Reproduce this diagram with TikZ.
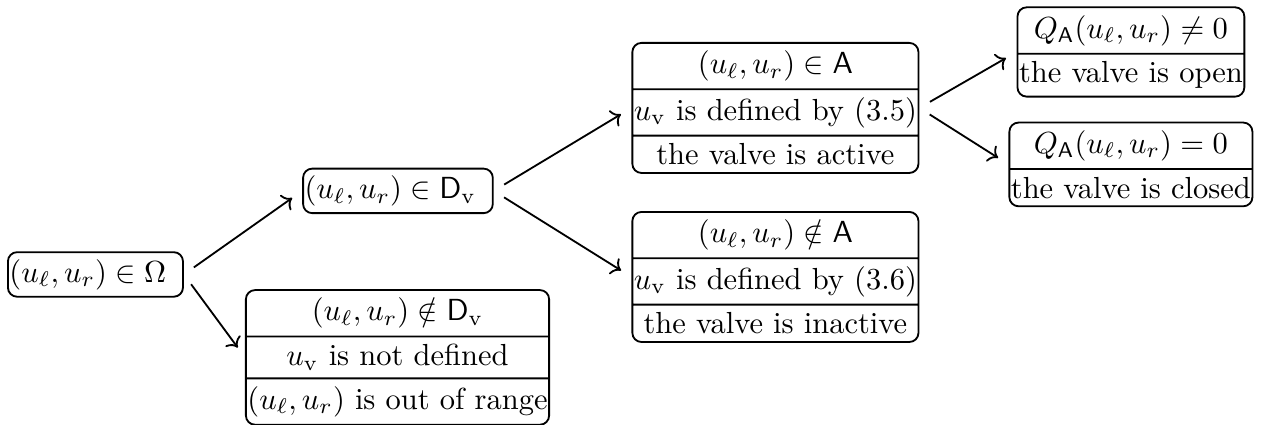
\documentclass[tikz,border=0pt]{standalone}
\usetikzlibrary{arrows.meta,positioning,shapes.multipart}
\usepackage{amsmath,amssymb}

\begin{document}
\begin{tikzpicture}[
            every node/.style={
                    rectangle,
                    rounded corners=3pt,
                    draw=black,
                    semithick,
                    inner xsep=0.5pt,
                    inner ysep=2.3pt,
                    align=center
                },
            multi/.style={
                    rectangle split,
                    rectangle split parts=#1
                },
            link/.style={
                    ->,
                    semithick,
                    shorten <=4pt,
                    shorten >=4pt
                }
        ]

        \useasboundingbox (0,0) rectangle (14.59,4.897);

        \node (omega) at (1.100,1.734) {$(u_\ell,u_r)\in\Omega$\enspace};
        \node (dv) at (4.586,2.697) {$(u_\ell,u_r)\in\mathsf{D}_{\mathrm{v}}$\enspace};
        \node[multi=3] (notdv) at (4.581,0.778) {$(u_\ell,u_r)\notin\mathsf{D}_{\mathrm{v}}$
            \nodepart{two} $u_{\mathrm{v}}$ is not defined
            \nodepart{three} $(u_\ell,u_r)$ is out of range};
        \node[multi=3] (act) at (8.936,3.653) {$(u_\ell,u_r)\in\mathsf{A}$
            \nodepart{two} $u_{\mathrm{v}}$ is defined by (3.5)
            \nodepart{three} the valve is active};
        \node[multi=3] (inact) at (8.936,1.705) {$(u_\ell,u_r)\notin\mathsf{A}$
            \nodepart{two} $u_{\mathrm{v}}$ is defined by (3.6)
            \nodepart{three} the valve is inactive};
        \node[multi=2] (open) at (13.033,4.298) {$Q_{\mathsf{A}}(u_\ell,u_r)\neq0$
            \nodepart{two} the valve is open};
        \node[multi=2] (closed) at (13.033,3.002) {$Q_{\mathsf{A}}(u_\ell,u_r)=0$
            \nodepart{two} the valve is closed};

        \draw[link] (omega.east) -- (dv.west);
        \draw[link] (omega.east) -- (notdv.west);
        \draw[link] (dv.east) -- (act.west);
        \draw[link] (dv.east) -- (inact.west);
        \draw[link] (act.east) -- (open.west);
        \draw[link] (act.east) -- (closed.west);

    \end{tikzpicture}
\end{document}
